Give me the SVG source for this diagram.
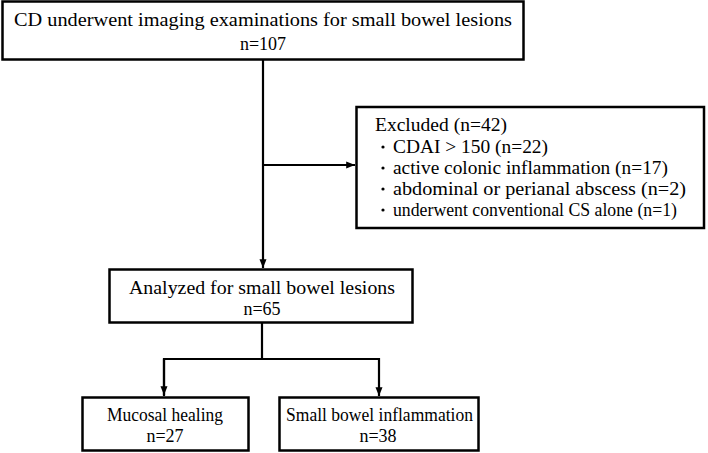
<svg xmlns="http://www.w3.org/2000/svg" width="708" height="453" viewBox="0 0 708 453">
<defs>
<marker id="ah" viewBox="0 0 10 10" refX="10" refY="5" markerWidth="4" markerHeight="4" markerUnits="strokeWidth" orient="auto">
<path d="M0,1 L10,5 L0,9 z" fill="#000"/>
</marker>
</defs>
<rect width="708" height="453" fill="#fff"/>
<g id="connectors" fill="none" stroke="#000" stroke-width="2.2">
<line x1="263" y1="60" x2="263" y2="268" marker-end="url(#ah)"/>
<line x1="263" y1="165" x2="355" y2="165" marker-end="url(#ah)"/>
<line x1="262" y1="323" x2="262" y2="359"/>
<polyline points="164,396 164,359 379,359 379,396" marker-end="url(#ah)"/>
<line x1="164" y1="359" x2="164" y2="395" marker-end="url(#ah)"/>
</g>
<g id="n-top">
<rect x="2.5" y="1.5" width="521" height="58" fill="#fff" stroke="#000" stroke-width="2.5"/>
<text font-family="Liberation Serif" font-size="18" text-anchor="middle" x="263" y="26" textLength="498" lengthAdjust="spacingAndGlyphs">CD underwent imaging examinations for small bowel lesions</text>
<text font-family="Liberation Serif" font-size="18" text-anchor="middle" x="263" y="50">n=107</text>
</g>
<g id="n-excluded">
<rect x="356.5" y="107" width="347.5" height="121" fill="#fff" stroke="#000" stroke-width="2.5"/>
<text font-family="Liberation Serif" font-size="18" x="375" y="131" textLength="132" lengthAdjust="spacingAndGlyphs">Excluded (n=42)</text>
<g fill="#000"><circle cx="383" cy="147" r="1.6"/><circle cx="383" cy="168" r="1.6"/><circle cx="383" cy="189" r="1.6"/><circle cx="383" cy="210" r="1.6"/></g>
<text font-family="Liberation Serif" font-size="18" x="393" y="153" textLength="155" lengthAdjust="spacingAndGlyphs">CDAI &gt; 150 (n=22)</text>
<text font-family="Liberation Serif" font-size="18" x="393" y="174" textLength="275" lengthAdjust="spacingAndGlyphs">active colonic inflammation (n=17)</text>
<text font-family="Liberation Serif" font-size="18" x="393" y="195" textLength="293" lengthAdjust="spacingAndGlyphs">abdominal or perianal abscess (n=2)</text>
<text font-family="Liberation Serif" font-size="18" x="393" y="216" textLength="284" lengthAdjust="spacingAndGlyphs">underwent conventional CS alone (n=1)</text>
</g>
<g id="n-analyzed">
<rect x="109.5" y="269.5" width="303" height="53" fill="#fff" stroke="#000" stroke-width="2.5"/>
<text font-family="Liberation Serif" font-size="18" text-anchor="middle" x="262" y="294" textLength="266" lengthAdjust="spacingAndGlyphs">Analyzed for small bowel lesions</text>
<text font-family="Liberation Serif" font-size="18" text-anchor="middle" x="262" y="315">n=65</text>
</g>
<g id="n-mucosal">
<rect x="82.5" y="397.5" width="166" height="53" fill="#fff" stroke="#000" stroke-width="2.5"/>
<text font-family="Liberation Serif" font-size="18" x="107" y="421" textLength="116" lengthAdjust="spacingAndGlyphs">Mucosal healing</text>
<text font-family="Liberation Serif" font-size="18" text-anchor="middle" x="165" y="442">n=27</text>
</g>
<g id="n-inflam">
<rect x="279.5" y="397.5" width="199" height="53" fill="#fff" stroke="#000" stroke-width="2.5"/>
<text font-family="Liberation Serif" font-size="18" x="286" y="421" textLength="187" lengthAdjust="spacingAndGlyphs">Small bowel inflammation</text>
<text font-family="Liberation Serif" font-size="18" text-anchor="middle" x="378" y="442">n=38</text>
</g>
</svg>
